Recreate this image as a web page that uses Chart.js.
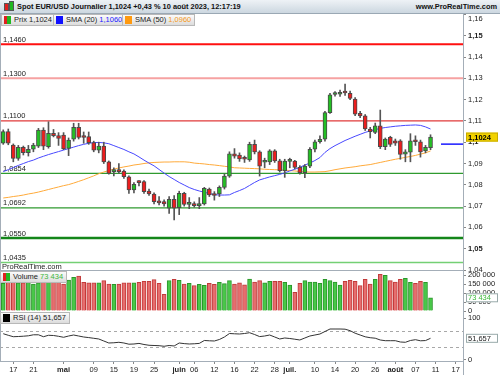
<!DOCTYPE html>
<html>
<head>
<meta charset="utf-8">
<script src="https://cdn.jsdelivr.net/npm/chart.js@4.4.0/dist/chart.umd.min.js"></script>
<style>
  body { margin:0; width:500px; height:375px; overflow:hidden; background:#fff; position:relative;
         font-family:"Liberation Sans", Arial, sans-serif; color:#222; }
  canvas, .abs { position:absolute; }
  #header { left:0; top:0; width:500px; height:13px; background:linear-gradient(#eef2f6,#ccd7e0);
            border-bottom:1px solid #9aa8b4; font-weight:bold; font-size:7.4px; line-height:13px; color:#111; z-index:5; }
  .lg { position:absolute; height:10px; border:1px solid #b8b8b8; background:linear-gradient(#fbfbfb,#dcdcdc);
        font-size:7.5px; line-height:10px; padding:0 3px 0 12px; white-space:nowrap; z-index:5; }
  .sq { position:absolute; left:2px; top:1px; width:7px; height:8px; }
  .split { background:linear-gradient(90deg,#e02020 50%,#22b822 50%); }
  .vline { position:absolute; width:1px; background:#a4aeb8; z-index:4; }
  .hline { position:absolute; height:1px; background:#a4aeb8; z-index:4; }
</style>
</head>
<body>
<div id="header">
  <div class="abs" style="left:4px;top:3px;width:3px;height:6px;background:#e02020;border:1px solid #555"></div>
  <div class="abs" style="left:9px;top:1px;width:3px;height:8px;background:#22b822;border:1px solid #555"></div>
  <span class="abs" style="left:17px">Spot EUR/USD Journalier 1,1024 +0,43 % 10 août 2023, 12:17:19</span>
  <span class="abs" style="right:3px">www.ProRealTime.com</span>
</div>

<div class="lg" style="left:1px;top:14px"><span class="sq split"></span>Prix 1,1024</div>
<div class="lg" style="left:53px;top:14px"><span class="sq" style="background:#1010ff"></span>SMA (20) <span style="color:#2020ff">1,1060</span></div>
<div class="lg" style="left:122px;top:14px"><span class="sq" style="background:#ff9a10"></span>SMA (50) <span style="color:#f59a1a">1,0960</span></div>
<div class="abs" style="left:2px;top:262px;font-size:7.5px;z-index:5">ProRealTime.com</div>
<div class="lg" style="left:0px;top:271px"><span class="sq split"></span>Volume <span style="color:#3cb83c">73 434</span></div>
<div class="lg" style="left:0px;top:312px"><span class="sq" style="background:#000"></span>RSI (14) 51,657</div>

<div class="vline" style="left:0;top:14px;height:347px"></div>
<div class="vline" style="left:463px;top:14px;height:361px"></div>
<div class="hline" style="left:0;top:270px;width:463px"></div>

<canvas id="mainChart" width="500" height="260" style="left:0;top:14px"></canvas>
<canvas id="volChart" width="500" height="46" style="left:0;top:270px"></canvas>
<canvas id="rsiChart" width="500" height="64" style="left:0;top:311px"></canvas>

<script>
const dates = ['13/04','14/04','17/04','18/04','19/04','20/04','21/04','24/04','25/04','26/04','27/04','28/04',
  '01/05','02/05','03/05','04/05','05/05','08/05','09/05','10/05','11/05','12/05','15/05','16/05','17/05','18/05',
  '19/05','22/05','23/05','24/05','25/05','26/05','29/05','30/05','31/05',
  '01/06','02/06','05/06','06/06','07/06','08/06','09/06','12/06','13/06','14/06','15/06','16/06','19/06','20/06',
  '21/06','22/06','23/06','26/06','27/06','28/06','29/06','30/06',
  '03/07','04/07','05/07','06/07','07/07','10/07','11/07','12/07','13/07','14/07','17/07','18/07','19/07','20/07',
  '21/07','24/07','25/07','26/07','27/07','28/07','31/07',
  '01/08','02/08','03/08','04/08','07/08','08/08','09/08','10/08'];

const open = [1.0995,1.1050,1.0986,1.0924,1.0976,1.0951,1.0967,1.0982,1.1057,1.0979,1.1042,1.1031,
  1.1034,1.0971,1.1014,1.1070,1.1025,1.1026,1.0998,1.0963,1.0982,1.0908,1.0862,1.0868,1.0865,1.0838,
  1.0776,1.0814,1.0815,1.0771,1.0757,1.0720,1.0721,1.0690,1.0732,
  1.0693,1.0760,1.0708,1.0712,1.0702,1.0710,1.0780,1.0754,1.0757,1.0788,1.0841,1.0945,1.0940,1.0922,
  1.0917,1.0990,1.0955,1.0906,1.0908,1.0959,1.0913,1.0866,
  1.0910,1.0911,1.0882,1.0857,1.0888,1.0967,1.1002,1.1014,1.1139,1.1224,1.1225,1.1233,1.1230,1.1203,
  1.1136,1.1124,1.1062,1.1046,1.1077,1.0979,1.1023,
  1.1007,1.1007,1.0944,1.0953,1.1010,1.1002,1.0959,1.0974];
const high = [1.1058,1.1062,1.0992,1.0985,1.0982,1.0985,1.0995,1.1065,1.1068,1.1096,1.1060,1.1045,
  1.1045,1.1020,1.1089,1.1089,1.1048,1.1048,1.1005,1.1000,1.1000,1.0912,1.0880,1.0900,1.0870,1.0842,
  1.0810,1.0820,1.0820,1.0780,1.0762,1.0745,1.0730,1.0745,1.0750,
  1.0770,1.0765,1.0740,1.0720,1.0740,1.0788,1.0785,1.0768,1.0795,1.0850,1.0955,1.0970,1.0950,1.0935,
  1.1000,1.1010,1.0960,1.0925,1.0965,1.0965,1.0920,1.0920,
  1.0925,1.0915,1.0890,1.0895,1.0975,1.1010,1.1030,1.1145,1.1230,1.1238,1.1245,1.1273,1.1240,1.1210,
  1.1145,1.1130,1.1070,1.1090,1.1151,1.1020,1.1028,
  1.1015,1.1012,1.0965,1.1040,1.1030,1.1010,1.0985,1.1035];
const low = [1.0990,1.0988,1.0908,1.0915,1.0940,1.0935,1.0955,1.0975,1.0965,1.0972,1.1025,1.0985,
  1.0965,1.0937,1.1005,1.1015,1.0995,1.0990,1.0955,1.0950,1.0900,1.0850,1.0842,1.0855,1.0830,1.0760,
  1.0762,1.0795,1.0760,1.0750,1.0710,1.0705,1.0700,1.0666,1.0635,
  1.0660,1.0700,1.0688,1.0695,1.0688,1.0705,1.0745,1.0728,1.0745,1.0780,1.0835,1.0925,1.0910,1.0905,
  1.0910,1.0945,1.0841,1.0880,1.0895,1.0905,1.0860,1.0835,
  1.0880,1.0875,1.0850,1.0833,1.0880,1.0955,1.0995,1.1005,1.1135,1.1216,1.1215,1.1220,1.1200,1.1125,
  1.1115,1.1055,1.1020,1.1040,1.0970,1.0965,1.0980,
  1.0985,1.0920,1.0908,1.0908,1.0985,1.0930,1.0950,1.0965];
const close = [1.1050,1.0995,1.0924,1.0976,1.0951,1.0967,1.0987,1.1057,1.0982,1.1042,1.1031,1.1018,
  1.0968,1.1010,1.1070,1.1023,1.1022,1.0998,1.0963,1.0982,1.0908,1.0854,1.0868,1.0862,1.0838,1.0776,
  1.0802,1.0810,1.0768,1.0757,1.0721,1.0715,1.0710,1.0732,1.0690,
  1.0760,1.0708,1.0712,1.0702,1.0708,1.0784,1.0752,1.0750,1.0788,1.0841,1.0945,1.0935,1.0921,1.0920,
  1.0990,1.0955,1.0888,1.0909,1.0959,1.0912,1.0866,1.0911,
  1.0912,1.0882,1.0857,1.0888,1.0967,1.1002,1.1014,1.1139,1.1222,1.1226,1.1234,1.1231,1.1206,1.1132,
  1.1123,1.1062,1.1049,1.1077,1.0979,1.1015,1.0990,
  1.0995,1.0943,1.0955,1.1006,1.1002,1.0955,1.0976,1.1024];

const volume = [154000,159000,161000,156000,156000,159000,150000,156000,169000,169000,169000,169000,
  150000,172000,187000,194000,159000,156000,156000,157000,169000,150000,148000,150000,156000,156000,
  156000,159000,165000,165000,174000,154000,93000,169000,176000,
  170000,150000,154000,141000,148000,143000,154000,148000,159000,152000,169000,150000,157000,146000,
  178000,161000,169000,157000,165000,165000,165000,159000,
  144000,104000,154000,169000,161000,161000,154000,176000,169000,161000,144000,165000,170000,165000,
  141000,176000,150000,176000,204000,198000,169000,
  161000,176000,181000,159000,154000,165000,159000,73434];

const sma20 = [1.0862,1.0871,1.0881,1.0891,1.0900,1.0909,1.0916,1.0926,1.0934,1.0942,
  1.0949,1.0956,1.0963,1.0970,1.0977,1.0984,1.0990,1.0995,1.0998,1.0999,
  1.0997,1.0993,1.0984,1.0975,1.0966,1.0955,1.0945,1.0931,1.0916,1.0902,
  1.0889,1.0872,1.0855,1.0839,1.0825,1.0811,1.0799,1.0787,1.0778,1.0771,
  1.0765,1.0759,1.0754,1.0752,1.0752,1.0753,1.0764,1.0773,1.0783,1.0797,
  1.0811,1.0823,1.0830,1.0837,1.0843,1.0849,1.0856,1.0865,1.0873,1.0882,
  1.0893,1.0902,1.0914,1.0928,1.0952,1.0970,1.0984,1.0996,1.1008,1.1018,
  1.1028,1.1037,1.1046,1.1053,1.1059,1.1065,1.1069,1.1072,1.1075,1.1077,
  1.1079,1.1080,1.1081,1.1079,1.1072,1.1062];
const sma50 = [1.0738,1.0741,1.0745,1.0748,1.0752,1.0757,1.0761,1.0766,1.0772,1.0778,
  1.0784,1.0790,1.0796,1.0801,1.0808,1.0816,1.0824,1.0833,1.0842,1.0852,
  1.0860,1.0867,1.0874,1.0879,1.0884,1.0888,1.0893,1.0896,1.0900,1.0903,
  1.0905,1.0906,1.0907,1.0907,1.0908,1.0908,1.0908,1.0906,1.0902,1.0900,
  1.0898,1.0895,1.0893,1.0890,1.0887,1.0884,1.0880,1.0879,1.0878,1.0877,
  1.0876,1.0875,1.0873,1.0872,1.0871,1.0870,1.0869,1.0867,1.0865,1.0862,
  1.0861,1.0860,1.0860,1.0861,1.0862,1.0866,1.0871,1.0875,1.0879,1.0882,
  1.0885,1.0889,1.0892,1.0895,1.0900,1.0905,1.0910,1.0915,1.0920,1.0924,
  1.0929,1.0933,1.0938,1.0944,1.0950,1.0959];
const rsi14 = [62.7,58.9,55.5,56.0,56.7,57.7,60.1,60.1,55.5,58.9,
  58.4,56.5,54.1,57.2,59.6,57.2,54.8,53.4,51.7,50.0,
  45.2,40.4,40.9,42.1,40.4,37.5,38.0,39.4,36.8,34.9,
  34.4,33.9,32.5,34.4,33.2,40.4,38.9,38.0,38.5,39.4,
  46.4,45.7,45.2,48.8,54.8,63.2,62.5,62.0,63.2,65.1,
  60.8,55.8,57.2,59.6,54.8,50.0,52.4,51.2,49.5,47.6,
  52.4,57.2,59.6,62.0,68.0,74.0,74.0,74.0,73.6,70.0,
  63.9,59.6,55.3,53.1,51.9,47.6,45.9,45.9,45.9,42.8,
  42.1,46.4,48.3,45.7,46.2,51.657];

const priceLevels = [1.1460, 1.1300, 1.1100, 1.0854, 1.0692, 1.0550, 1.0435];
const priceTicks = [1.04, 1.05, 1.06, 1.07, 1.08, 1.09, 1.10, 1.11, 1.12, 1.13, 1.14, 1.15, 1.16];
const sma20Marker = 1.0991;
const volumeTicks = [0, 50000, 100000, 150000, 200000];
const rsiTicks = [0, 100];
const rsiBands = [30, 70];
const xTickIdx = [2, 6, 12, 18, 22, 26, 30, 35, 38, 42, 46, 50, 54, 57, 62, 66, 70, 74, 78, 82, 86, 90];
const xTickLabels = ['17','21','mai','09','15','19','25','juin','06','12','16','22','28','juil.',
  '10','14','20','26','août','07','11','17'];
const monthTicks = ['mai', 'juin', 'juil.', 'août'];

// styling
const levelStyles = [
  { color: '#ff1010', width: 2 }, { color: '#f6a2a2', width: 2 }, { color: '#e03a3a', width: 1.2 },
  { color: '#2f9a2f', width: 1.2 }, { color: '#2f9a2f', width: 1.2 }, { color: '#14861a', width: 2.5 },
  { color: '#74d074', width: 1.5 }
];
const xMin = -0.646, xMax = 91.46;
const FONT = '"Liberation Sans", Arial, sans-serif';
Chart.defaults.font.family = FONT;
Chart.defaults.font.size = 7.5;
Chart.defaults.color = '#222';
Chart.defaults.animation = false;

const fmt = (v, d) => v.toFixed(d).replace('.', ',');
const fmtTick = v => String(Math.round(v * 100) / 100).replace('.', ',');
const fmtVol = v => String(Math.round(v)).replace(/\B(?=(\d{3})+(?!\d))/g, ' ');
const isUp = i => close[i] >= open[i];

function fixRightAxis(scale) {
  scale.width = 37;
  scale.paddingTop = 0;
  scale.paddingBottom = 0;
}

// tick labels of the small panels, next to the right axis
function axisLabels(ctx, area, scale, values, format) {
  ctx.save();
  ctx.fillStyle = '#222';
  ctx.font = '7.5px ' + FONT;
  ctx.textBaseline = 'middle';
  values.forEach(v => ctx.fillText(format(v), area.right + 5, scale.getPixelForValue(v)));
  ctx.restore();
}

function valueBox(ctx, area, py, text, opts) {
  ctx.save();
  ctx.fillStyle = opts.bg;
  ctx.strokeStyle = opts.border;
  ctx.lineWidth = 1;
  ctx.fillRect(area.right + 3, py - 4.5, 32, 9);
  ctx.strokeRect(area.right + 3.5, py - 4, 31, 8);
  ctx.fillStyle = opts.color;
  ctx.font = (opts.bold ? 'bold ' : '') + '7.5px ' + FONT;
  ctx.textBaseline = 'middle';
  ctx.fillText(text, area.right + 5, py + 0.5);
  ctx.restore();
}

const sharedX = { type: 'linear', min: xMin, max: xMax, offset: false, display: false };
const baseOpts = {
  responsive: false,
  plugins: { legend: { display: false }, tooltip: { enabled: false } }
};

// main price panel
const mainDecor = {
  id: 'mainDecor',
  beforeDatasetsDraw(chart) {
    const { ctx, chartArea: a, scales: { y } } = chart;
    ctx.save();
    ctx.font = '7.5px ' + FONT;
    priceLevels.forEach((v, k) => {
      const py = y.getPixelForValue(v);
      ctx.strokeStyle = levelStyles[k].color;
      ctx.lineWidth = levelStyles[k].width;
      ctx.beginPath();
      ctx.moveTo(a.left, py);
      ctx.lineTo(a.right, py);
      ctx.stroke();
      ctx.fillStyle = '#222';
      ctx.fillText(fmt(v, 4), a.left + 3, py - 2.5);
    });
    ctx.restore();
  },
  afterDraw(chart) {
    const { ctx, chartArea: a, scales: { y } } = chart;
    ctx.save();
    const my = y.getPixelForValue(sma20Marker);
    ctx.strokeStyle = '#1a1aff';
    ctx.lineWidth = 1.5;
    ctx.beginPath();
    ctx.moveTo(a.right - 22, my);
    ctx.lineTo(a.right, my);
    ctx.stroke();
    ctx.fillStyle = '#222';
    ctx.font = '7.5px ' + FONT;
    ctx.fillText('1,16', a.right + 5, y.getPixelForValue(1.16) + 7);
    ctx.restore();
    valueBox(ctx, a, y.getPixelForValue(close[close.length - 1]), fmt(close[close.length - 1], 4),
      { bg: '#f2d200', border: '#c8ac00', color: '#000', bold: true });
  }
};

const priceFont = c => {
  const bold = c && c.tick && Math.round(c.tick.value * 100) % 5 === 0;
  return { size: 7.5, weight: bold ? 'bold' : 'normal' };
};
const dayFont = c => {
  const bold = c && c.tick && monthTicks.includes(xTickLabels[xTickIdx.indexOf(c.tick.value)]);
  return { size: 7.5, weight: bold ? 'bold' : 'normal' };
};

new Chart(document.getElementById('mainChart'), {
  type: 'bar',
  data: {
    datasets: [
      {
        label: 'Prix',
        data: open.map((o, i) => ({ x: i, y: [o, close[i]] })),
        backgroundColor: c => isUp(c.dataIndex) ? '#24bf24' : '#ec1e1e',
        borderColor: '#4a4a4a',
        borderWidth: 1,
        borderSkipped: false,
        barThickness: 4,
        minBarLength: 2,
        grouped: false,
        order: 1
      },
      {
        label: 'wick',
        data: low.map((l, i) => ({ x: i, y: [l, high[i]] })),
        backgroundColor: '#555',
        barThickness: 1,
        grouped: false,
        order: 2
      },
      {
        type: 'line', label: 'SMA (20)',
        data: sma20.map((v, i) => ({ x: i, y: v })),
        borderColor: '#4848ff', borderWidth: 1, pointRadius: 0, order: 3
      },
      {
        type: 'line', label: 'SMA (50)',
        data: sma50.map((v, i) => ({ x: i, y: v })),
        borderColor: '#ffaa3a', borderWidth: 1, pointRadius: 0, order: 4
      }
    ]
  },
  options: {
    ...baseOpts,
    layout: { padding: { left: 0, top: 0, right: 0, bottom: 4 } },
    scales: {
      x: sharedX,
      y: {
        position: 'right', min: 1.04, max: 1.1602,
        afterBuildTicks: s => { s.ticks = priceTicks.map(v => ({ value: v })); },
        afterFit: fixRightAxis,
        grid: { drawOnChartArea: false, tickLength: 3, color: '#888' },
        border: { color: '#a4aeb8' },
        ticks: {
          padding: 2, autoSkip: false,
          callback: v => v > 1.155 ? '' : fmtTick(v),
          font: priceFont
        }
      }
    }
  },
  plugins: [mainDecor]
});

// volume panel
const volDecor = {
  id: 'volDecor',
  afterDraw(chart) {
    const { ctx, chartArea: a, scales: { y } } = chart;
    axisLabels(ctx, a, y, volumeTicks, fmtVol);
    const last = volume[volume.length - 1];
    valueBox(ctx, a, y.getPixelForValue(last), fmtVol(last), { bg: '#fff', border: '#9aa', color: '#3cb83c' });
  }
};

new Chart(document.getElementById('volChart'), {
  type: 'bar',
  data: {
    datasets: [{
      label: 'Volume',
      data: volume.map((v, i) => ({ x: i, y: v })),
      backgroundColor: c => isUp(c.dataIndex) ? '#48c848' : '#e66e6e',
      borderColor: c => isUp(c.dataIndex) ? '#2a962a' : '#c23a3a',
      borderWidth: 1,
      borderSkipped: 'bottom',
      barThickness: 4
    }]
  },
  options: {
    ...baseOpts,
    layout: { padding: { left: 0, top: 0, right: 0, bottom: 5 } },
    scales: {
      x: sharedX,
      y: {
        position: 'right', min: 0, max: 227800,
        afterBuildTicks: s => { s.ticks = volumeTicks.map(v => ({ value: v })); },
        afterFit: fixRightAxis,
        grid: { drawOnChartArea: false, tickLength: 3, color: '#888' },
        border: { color: '#a4aeb8' },
        ticks: { display: false }
      }
    }
  },
  plugins: [volDecor]
});

// RSI panel
const rsiDecor = {
  id: 'rsiDecor',
  beforeDatasetsDraw(chart) {
    const { ctx, chartArea: a, scales: { y } } = chart;
    ctx.save();
    ctx.strokeStyle = '#a8a8a8';
    ctx.lineWidth = 1;
    ctx.setLineDash([3, 3]);
    rsiBands.forEach(v => {
      const py = Math.round(y.getPixelForValue(v)) + 0.5;
      ctx.beginPath();
      ctx.moveTo(a.left, py);
      ctx.lineTo(a.right, py);
      ctx.stroke();
    });
    ctx.restore();
  },
  afterDraw(chart) {
    const { ctx, chartArea: a, scales: { y } } = chart;
    axisLabels(ctx, a, y, rsiTicks, v => String(v));
    const last = rsi14[rsi14.length - 1];
    valueBox(ctx, a, y.getPixelForValue(last), fmt(last, 3), { bg: '#fff', border: '#9aa', color: '#222' });
  }
};

new Chart(document.getElementById('rsiChart'), {
  type: 'line',
  data: {
    datasets: [{
      label: 'RSI (14)',
      data: rsi14.map((v, i) => ({ x: i, y: v })),
      borderColor: '#333', borderWidth: 1, pointRadius: 0
    }]
  },
  options: {
    ...baseOpts,
    layout: { padding: { left: 0, top: 1, right: 0, bottom: 0 } },
    scales: {
      x: {
        type: 'linear', min: xMin, max: xMax, offset: false,
        afterBuildTicks: s => { s.ticks = xTickIdx.map(v => ({ value: v })); },
        afterFit: s => { s.height = 14; },
        grid: { drawOnChartArea: false, tickLength: 3, color: '#888' },
        border: { color: '#a4aeb8' },
        ticks: {
          autoSkip: false, maxRotation: 0, padding: 1,
          callback: v => xTickLabels[xTickIdx.indexOf(v)],
          font: dayFont
        }
      },
      y: {
        position: 'right', min: -2.9, max: 114.9,
        afterBuildTicks: s => { s.ticks = rsiTicks.map(v => ({ value: v })); },
        afterFit: fixRightAxis,
        grid: { drawOnChartArea: false, tickLength: 3, color: '#888' },
        border: { color: '#a4aeb8' },
        ticks: { display: false }
      }
    }
  },
  plugins: [rsiDecor]
});
</script>
</body>
</html>
